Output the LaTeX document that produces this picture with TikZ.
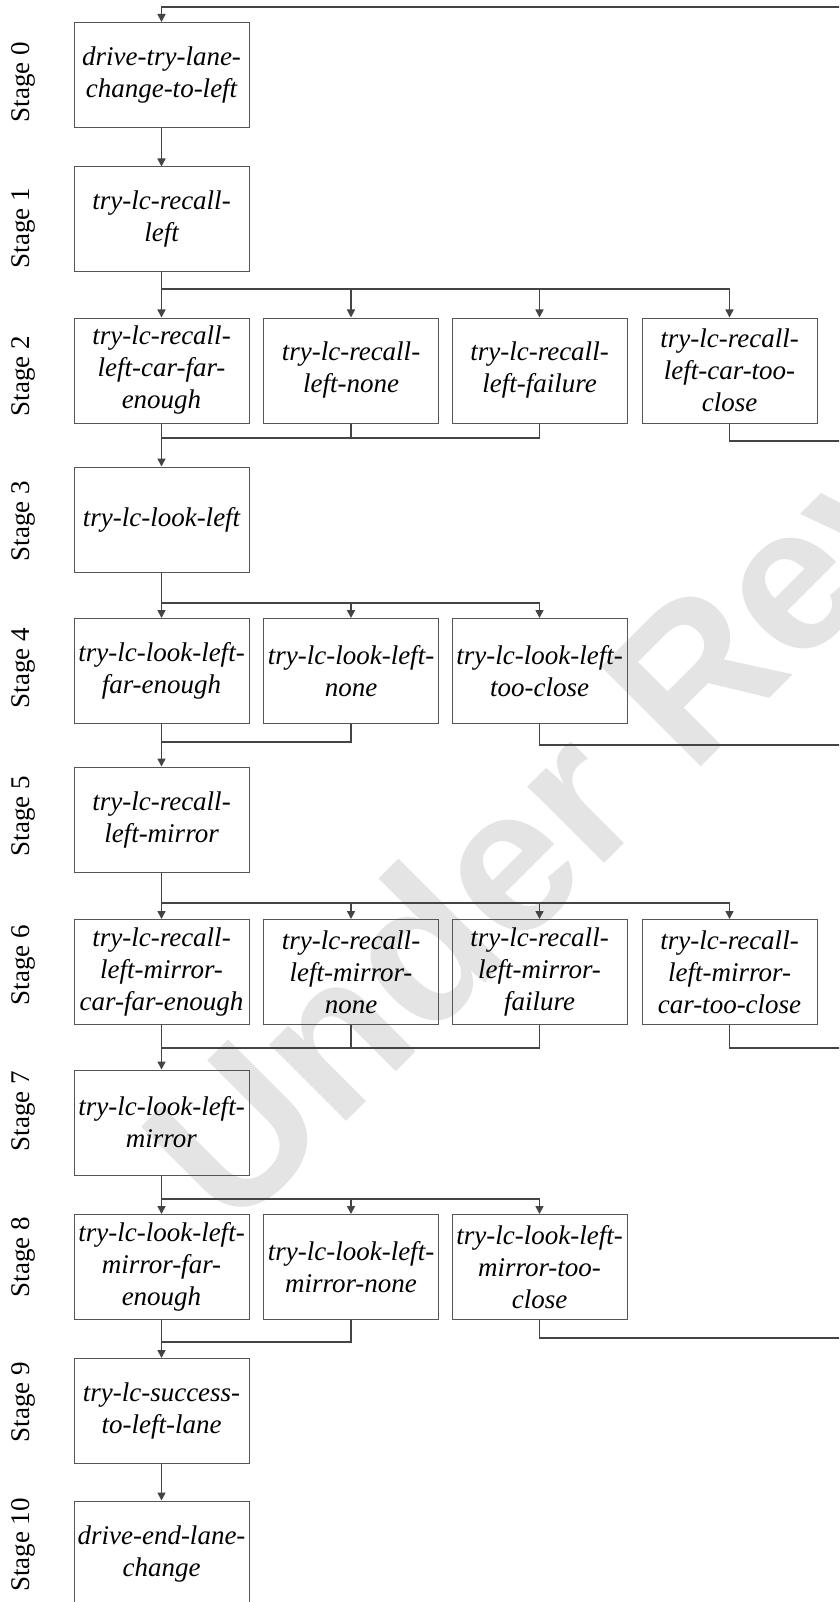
\documentclass[tikz,border=0pt]{standalone}
\usepackage{fontspec}
\IfFontExistsTF{Liberation Serif}{\setmainfont{Liberation Serif}}{}
\newfontfamily\wmfont{Liberation Sans}
\usetikzlibrary{arrows.meta}
\definecolor{linec}{HTML}{444444}
\definecolor{boxc}{HTML}{555555}
\definecolor{wmc}{HTML}{E4E4E4}
\begin{document}
\begin{tikzpicture}[x=1pt,y=1pt,
  box/.style={draw=boxc, line width=1pt, minimum width=175pt, minimum height=105pt,
    inner sep=0pt, align=center, font=\rmfamily\fontsize{27}{32}\selectfont\itshape},
  stagelbl/.style={rotate=90, font=\rmfamily\fontsize{27}{32}\selectfont, anchor=center},
  ln/.style={draw=linec, line width=1.6pt},
  arr/.style={ln, -{Triangle[length=8pt,width=8pt]}},
  wm/.style={text=wmc, rotate=45, anchor=base west, inner sep=0pt,
    font=\wmfont\bfseries\fontsize{205}{205}\selectfont}]
\useasboundingbox (0,0) rectangle (839,-1602);
\clip (0,0) rectangle (839,-1602);
\fill[white] (0,0) rectangle (839,-1602);
% watermark
\node[wm] (water) at (232,-1236) {Under Review};
% stage labels
\node[stagelbl] (L0) at (23,-82) {Stage 0};
\node[stagelbl] (L1) at (23,-228) {Stage 1};
\node[stagelbl] (L2) at (23,-376) {Stage 2};
\node[stagelbl] (L3) at (23,-521) {Stage 3};
\node[stagelbl] (L4) at (23,-668) {Stage 4};
\node[stagelbl] (L5) at (23,-816) {Stage 5};
\node[stagelbl] (L6) at (23,-965) {Stage 6};
\node[stagelbl] (L7) at (23,-1111) {Stage 7};
\node[stagelbl] (L8) at (23,-1257) {Stage 8};
\node[stagelbl] (L9) at (23,-1402) {Stage 9};
\node[stagelbl] (L10) at (23,-1545) {Stage 10};
% boxes
\node[box] (S0) at (161.5,-75) {drive-try-lane-\\change-to-left};
\node[box] (S1) at (161.5,-219.5) {try-lc-recall-\\left};
\node[box] (A2) at (161.5,-370.5) {try-lc-recall-\\left-car-far-\\enough};
\node[box] (B2) at (351,-370.5) {try-lc-recall-\\left-none};
\node[box] (C2) at (539.5,-370.5) {try-lc-recall-\\left-failure};
\node[box] (D2) at (729.5,-370.5) {try-lc-recall-\\left-car-too-\\close};
\node[box] (S3) at (161.5,-519.5) {try-lc-look-left};
\node[box] (A4) at (161.5,-671) {try-lc-look-left-\\far-enough};
\node[box] (B4) at (351,-671) {try-lc-look-left-\\none};
\node[box] (C4) at (539.5,-671) {try-lc-look-left-\\too-close};
\node[box] (S5) at (161.5,-819.5) {try-lc-recall-\\left-mirror};
\node[box] (A6) at (161.5,-972) {try-lc-recall-\\left-mirror-\\car-far-enough};
\node[box] (B6) at (351,-972) {try-lc-recall-\\left-mirror-\\none};
\node[box] (C6) at (539.5,-972) {try-lc-recall-\\left-mirror-\\failure};
\node[box] (D6) at (729.5,-972) {try-lc-recall-\\left-mirror-\\car-too-close};
\node[box] (S7) at (161.5,-1122.5) {try-lc-look-left-\\mirror};
\node[box] (A8) at (161.5,-1267) {try-lc-look-left-\\mirror-far-\\enough};
\node[box] (B8) at (351,-1267) {try-lc-look-left-\\mirror-none};
\node[box] (C8) at (539.5,-1267) {try-lc-look-left-\\mirror-too-\\close};
\node[box] (S9) at (161.5,-1411) {try-lc-success-\\to-left-lane};
\node[box] (S10) at (161.5,-1553.5) {drive-end-lane-\\change};
% coordinates
\coordinate (b1) at (161.5,-289);
\coordinate (b3) at (161.5,-603);
\coordinate (b5) at (161.5,-903);
\coordinate (b7) at (161.5,-1199);
\coordinate (m2) at (161.5,-438);
\coordinate (m4) at (161.5,-742);
\coordinate (m6) at (161.5,-1048);
\coordinate (m8) at (161.5,-1342);
\coordinate (r2) at (850,-441);
\coordinate (r4) at (850,-745);
\coordinate (r6) at (850,-1048);
\coordinate (r8) at (850,-1338);
\coordinate (rtop) at (850,-7);
% main chain
\draw[arr] (S0.south) -- (S1.north);
\draw[arr] (S1.south) -- (A2.north);
\draw[arr] (b1) -| (B2.north);
\draw[arr] (b1) -| (C2.north);
\draw[arr] (b1) -| (D2.north);
\draw[arr] (A2.south) -- (S3.north);
\draw[ln] (B2.south) |- (m2);
\draw[ln] (C2.south) |- (m2);
\draw[ln] (D2.south) |- (r2);
\draw[arr] (S3.south) -- (A4.north);
\draw[arr] (b3) -| (B4.north);
\draw[arr] (b3) -| (C4.north);
\draw[arr] (A4.south) -- (S5.north);
\draw[ln] (B4.south) |- (m4);
\draw[ln] (C4.south) |- (r4);
\draw[arr] (S5.south) -- (A6.north);
\draw[arr] (b5) -| (B6.north);
\draw[arr] (b5) -| (C6.north);
\draw[arr] (b5) -| (D6.north);
\draw[arr] (A6.south) -- (S7.north);
\draw[ln] (B6.south) |- (m6);
\draw[ln] (C6.south) |- (m6);
\draw[ln] (D6.south) |- (r6);
\draw[arr] (S7.south) -- (A8.north);
\draw[arr] (b7) -| (B8.north);
\draw[arr] (b7) -| (C8.north);
\draw[arr] (A8.south) -- (S9.north);
\draw[ln] (B8.south) |- (m8);
\draw[ln] (C8.south) |- (r8);
\draw[arr] (S9.south) -- (S10.north);
% feedback loop
\draw[arr] (r8) -- (rtop) -| (S0.north);
\end{tikzpicture}
\end{document}
